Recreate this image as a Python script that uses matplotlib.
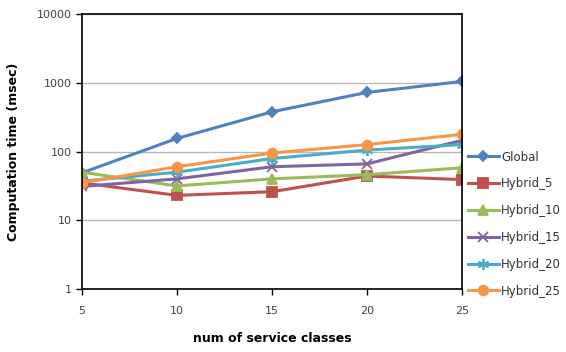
import matplotlib.pyplot as plt
from matplotlib.ticker import FixedLocator, NullLocator

service_classes = [5, 10, 15, 20, 25]
global_ms = [49, 155, 378, 723, 1045]
hybrid_5 = [35, 23, 26, 44, 39]
hybrid_10 = [50, 31.5, 40, 46, 58]
hybrid_15 = [31, 40, 60, 66, 145]
hybrid_20 = [37, 50, 79, 105, 126]
hybrid_25 = [35, 60, 95, 126, 178]

series_names = ["Global", "Hybrid_5", "Hybrid_10", "Hybrid_15", "Hybrid_20", "Hybrid_25"]
y_ticks = [1, 10, 100, 1000, 10000]
y_tick_labels = ["1", "10", "100", "1000", "10000"]

colors = ["#4F81BD", "#C0504D", "#9BBB59", "#8064A2", "#4BACC6", "#F79646"]
markers = ["D", "s", "^", "x", (6, 2, 0), "o"]
msizes = [5, 7, 7, 7, 8, 7]

fig = plt.figure(figsize=(5.66, 3.52), dpi=100)
ax = fig.add_axes([82 / 566, 63 / 352, 380 / 566, 275 / 352])

for name, vals, c, m, ms in zip(series_names,
                                [global_ms, hybrid_5, hybrid_10, hybrid_15, hybrid_20, hybrid_25],
                                colors, markers, msizes):
    ax.plot(service_classes, vals, color=c, marker=m, markersize=ms, linewidth=2.2,
            markeredgewidth=1.3, label=name)

ax.set_yscale("log")
ax.set_ylim(1, 10000)
ax.set_xlim(5, 25)
ax.yaxis.set_major_locator(FixedLocator(y_ticks))
ax.yaxis.set_minor_locator(NullLocator())
ax.set_yticklabels(y_tick_labels)
ax.set_xticks(service_classes)
ax.grid(axis="y", color="#b8b8b8", linewidth=1)
ax.set_axisbelow(True)

for s in ax.spines.values():
    s.set_color("black")
    s.set_linewidth(1.2)

ax.tick_params(axis="both", labelsize=8, colors="black", labelcolor="#404040",
               length=4, width=1, direction="out")
ax.tick_params(axis="x", pad=8)

ax.set_xlabel("num of service classes", fontsize=9, fontweight="bold", labelpad=12)
ax.set_ylabel("Computation time (msec)", fontsize=9, fontweight="bold", labelpad=12)

ax.legend(loc="center left", bbox_to_anchor=(1.0, 0.236), frameon=False,
          fontsize=8.5, labelspacing=1.17, handlelength=2.6, handletextpad=0.2,
          borderaxespad=0.1, labelcolor="#333333")

fig.savefig("out.png", dpi=100)
